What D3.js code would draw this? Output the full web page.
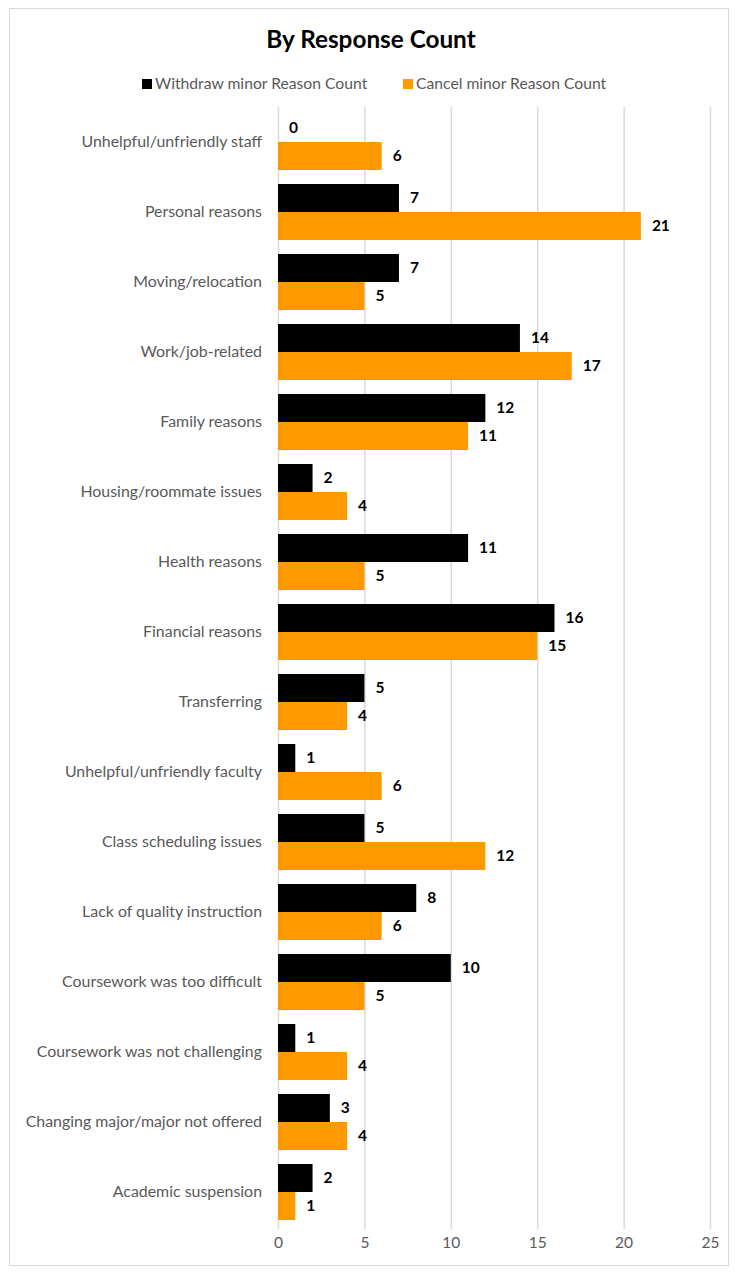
<!DOCTYPE html>
<html>
<head>
<meta charset="utf-8">
<script src="https://cdn.jsdelivr.net/npm/d3@7"></script>
<style>
  html, body { margin: 0; padding: 0; background: #fff; }
  svg { display: block; }
</style>
</head>
<body>
<svg id="chart" width="737" height="1274"></svg>
<script>
// Reasons for withdrawing / cancelling the minor, listed top to bottom
const categories = [
  "Unhelpful/unfriendly staff",
  "Personal reasons",
  "Moving/relocation",
  "Work/job-related",
  "Family reasons",
  "Housing/roommate issues",
  "Health reasons",
  "Financial reasons",
  "Transferring",
  "Unhelpful/unfriendly faculty",
  "Class scheduling issues",
  "Lack of quality instruction",
  "Coursework was too difficult",
  "Coursework was not challenging",
  "Changing major/major not offered",
  "Academic suspension"
];
const withdrawCounts = [0, 7, 7, 14, 12, 2, 11, 16, 5, 1, 5, 8, 10, 1, 3, 2];
const cancelCounts   = [6, 21, 5, 17, 11, 4, 5, 15, 4, 6, 12, 6, 5, 4, 4, 1];
const seriesNames = ["Withdraw minor Reason Count", "Cancel minor Reason Count"];
const xTicks = [0, 5, 10, 15, 20, 25];

const colors = ["#000000", "#FF9900"];
const font = "Lato, 'Open Sans', sans-serif";

const svg = d3.select("#chart");
const W = 737, H = 1274;
const margin = { left: 278, right: 27, top: 107, bottom: 47 };

// chart frame
svg.append("rect")
  .attr("x", 9.5).attr("y", 8.5)
  .attr("width", 719).attr("height", 1257)
  .attr("fill", "#fff").attr("stroke", "#D9D9D9").attr("stroke-width", 1);

const x = d3.scaleLinear().domain([0, 25]).range([margin.left, W - margin.right]);
const y = d3.scaleBand().domain(categories).range([margin.top, H - margin.bottom]).paddingInner(0.2).paddingOuter(0.1);
const ySub = d3.scaleBand().domain([0, 1]).range([0, y.bandwidth()]);

// title
svg.append("text")
  .attr("x", 371).attr("y", 48)
  .attr("text-anchor", "middle")
  .attr("font-family", font).attr("font-weight", "bold")
  .attr("font-size", 24.3).attr("fill", "#000")
  .text("By Response Count");

// legend
const legendItems = [
  { name: seriesNames[0], color: colors[0], x: 142 },
  { name: seriesNames[1], color: colors[1], x: 403 }
];
const lg = svg.append("g").selectAll("g").data(legendItems).join("g")
  .attr("transform", d => `translate(${d.x},79)`);
lg.append("rect").attr("width", 10).attr("height", 10).attr("fill", d => d.color);
lg.append("text")
  .attr("x", 13).attr("y", 10)
  .attr("font-family", font).attr("font-size", 15.7).attr("fill", "#595959")
  .text(d => d.name);

// vertical gridlines
svg.append("g").selectAll("line").data(xTicks).join("line")
  .attr("x1", d => x(d) + 0.5).attr("x2", d => x(d) + 0.5)
  .attr("y1", margin.top).attr("y2", H - margin.bottom + 2)
  .attr("stroke", "#D9D9D9").attr("stroke-width", 1.5);

// x axis tick labels
const xAxis = d3.axisBottom(x).tickValues(xTicks).tickSize(0).tickPadding(0);
const gx = svg.append("g").attr("transform", `translate(0,${H - margin.bottom + 10})`).call(xAxis);
gx.select(".domain").remove();
gx.selectAll("text")
  .attr("font-family", font).attr("font-size", 15.5).attr("fill", "#595959").attr("dy", "0.71em");

// category labels
const yAxis = d3.axisLeft(y).tickSize(0).tickPadding(16);
const gy = svg.append("g").attr("transform", `translate(${margin.left},0)`).call(yAxis);
gy.select(".domain").remove();
gy.selectAll("text")
  .attr("font-family", font).attr("font-size", 15.9).attr("fill", "#595959");

// bars
const rows = categories.map((c, i) => ({ cat: c, vals: [withdrawCounts[i], cancelCounts[i]] }));
const groups = svg.append("g").selectAll("g").data(rows).join("g")
  .attr("transform", d => `translate(0,${y(d.cat)})`);

groups.selectAll("rect").data(d => d.vals.map((v, k) => ({ v, k }))).join("rect")
  .attr("x", x(0))
  .attr("y", d => ySub(d.k))
  .attr("width", d => x(d.v) - x(0))
  .attr("height", ySub.bandwidth())
  .attr("fill", d => colors[d.k]);

groups.selectAll("text").data(d => d.vals.map((v, k) => ({ v, k }))).join("text")
  .attr("x", d => x(d.v) + 11)
  .attr("y", d => ySub(d.k) + ySub.bandwidth() / 2)
  .attr("dy", "0.35em")
  .attr("font-family", font).attr("font-weight", "bold")
  .attr("font-size", 15.5).attr("fill", "#000")
  .text(d => d.v);
</script>
</body>
</html>
